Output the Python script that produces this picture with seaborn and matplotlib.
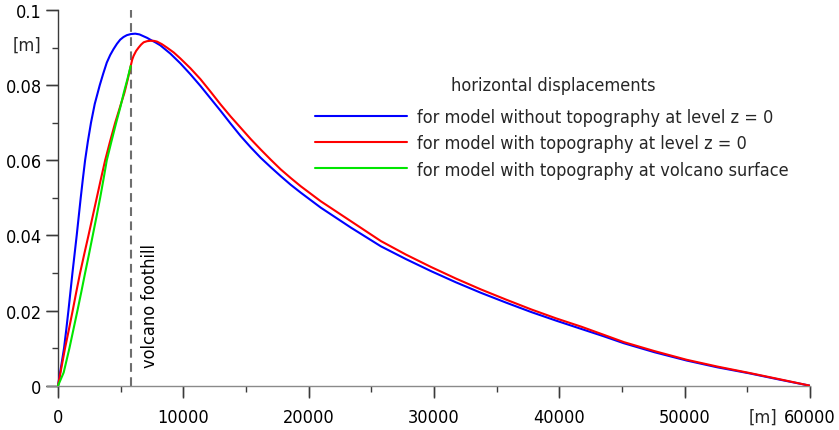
import matplotlib
matplotlib.use("Agg")
import matplotlib.pyplot as plt
from matplotlib import font_manager as fm
from matplotlib.lines import Line2D
import pandas as pd
import seaborn as sns

# distance from the volcano axis [m] and horizontal displacement [m]
x_blue = [0, 240, 480, 660, 830, 990, 1150, 1320, 1490, 1650, 1810, 1980, 2160, 2380,
          2630, 2930, 3330, 3600, 3890, 4160, 4430, 4700, 4960, 5220, 5490, 5820,
          6160, 6500, 6830, 7100, 7360, 7760, 8160, 8960, 9760, 10560, 11360, 12160,
          12960, 13760, 14560, 15360, 16160, 16960, 17760, 18560, 19360, 20160,
          20960, 23360, 25760, 27760, 29760, 31760, 33760, 35760, 37760, 39760,
          41760, 43500, 45150, 47600, 50160, 52600, 55150, 57600, 60000]
y_blue = [0, 0.0050, 0.0100, 0.0150, 0.0200, 0.0250, 0.0300, 0.0350, 0.0400, 0.0450,
          0.0500, 0.0550, 0.0600, 0.0650, 0.0700, 0.0750, 0.0800, 0.0830, 0.0860,
          0.0880, 0.0896, 0.0910, 0.0921, 0.0928, 0.0933, 0.0936, 0.0937, 0.0935,
          0.0930, 0.0926, 0.0921, 0.0914, 0.0906, 0.0884, 0.0858, 0.0829, 0.0798,
          0.0765, 0.0732, 0.0698, 0.0665, 0.0635, 0.0607, 0.0582, 0.0558, 0.0535,
          0.0514, 0.0494, 0.0474, 0.0421, 0.0371, 0.0337, 0.0305, 0.0275, 0.0247,
          0.0221, 0.0196, 0.0173, 0.0151, 0.0132, 0.0113, 0.0089, 0.0067, 0.0049,
          0.0033, 0.0016, 0]

x_red = [0, 280, 560, 870, 1170, 1460, 1760, 2090, 2430, 2760, 3090, 3420, 3760, 4150,
         4560, 4930, 5300, 5560, 5800, 5920, 6030, 6230, 6430, 6630, 6830, 7100, 7360,
         7630, 7890, 8290, 8690, 9230, 9760, 10560, 11360, 12160, 12960, 13760, 14560,
         15360, 16160, 16960, 17760, 18560, 19360, 20160, 20960, 23360, 25760, 27760,
         29760, 31760, 33760, 35760, 37760, 39760, 41760, 43500, 45150, 47600, 50160,
         52600, 55150, 57600, 60000]
y_red = [0, 0.0050, 0.0100, 0.0150, 0.0200, 0.0250, 0.0300, 0.0350, 0.0400, 0.0450,
         0.0500, 0.0550, 0.0600, 0.0650, 0.0700, 0.0740, 0.0780, 0.0815, 0.0851, 0.0868,
         0.0878, 0.0891, 0.0900, 0.0908, 0.0914, 0.0917, 0.0918, 0.0918, 0.0916, 0.0909,
         0.0900, 0.0887, 0.0871, 0.0845, 0.0816, 0.0783, 0.0749, 0.0717, 0.0687, 0.0657,
         0.0629, 0.0602, 0.0576, 0.0553, 0.0531, 0.0511, 0.0491, 0.0438, 0.0385, 0.0349,
         0.0316, 0.0285, 0.0256, 0.0229, 0.0203, 0.0179, 0.0157, 0.0136, 0.0116, 0.0092,
         0.0069, 0.0051, 0.0034, 0.0017, 0]

x_green = [0, 450, 910, 1230, 1550, 1860, 2160, 2470, 2770, 3070, 3360, 3630, 3890,
           4260, 4640, 4960, 5250, 5530, 5800]
y_green = [0, 0.0035, 0.0100, 0.0150, 0.0200, 0.0250, 0.0300, 0.0350, 0.0400, 0.0450,
           0.0500, 0.0550, 0.0600, 0.0650, 0.0700, 0.0740, 0.0780, 0.0815, 0.0851]

foothill_x = 5800

legend_title = "horizontal displacements"
labels = ["for model without topography at level z = 0",
          "for model with topography at level z = 0",
          "for model with topography at volcano surface"]
colors = ["#0000ff", "#ff0000", "#00e600"]

x_ticks = [0, 10000, 20000, 30000, 40000, 50000, 60000]
x_ticklabels = ["0", "10000", "20000", "30000", "40000", "50000", "60000"]
x_minor = [5000, 15000, 25000, 35000, 45000, 55000]
y_ticks = [0, 0.02, 0.04, 0.06, 0.08, 0.1]
y_ticklabels = ["0", "0.02", "0.04", "0.06", "0.08", "0.1"]
y_minor = [0.01, 0.03, 0.05, 0.07, 0.09]

sns.set_style("ticks")

# prefer a condensed humanist sans when one is installed
condensed = [f for f in fm.fontManager.ttflist
             if f.name.startswith("DejaVu Sans") and "Mono" not in f.name
             and ("Condensed" in f.name or f.stretch == "condensed")
             and f.style == "normal" and f.weight in (400, "normal")]
if condensed:
    plt.rcParams["font.family"] = [condensed[0].name]
    plt.rcParams["font.stretch"] = condensed[0].stretch
    FS = 13
else:
    plt.rcParams["font.family"] = ["DejaVu Sans"]
    FS = 12

tick_col = "#3a3a3a"
LONG, SHORT = 8.4, 4.0          # tick lengths in points

W, H = 839, 431
DPI = 100
fig = plt.figure(figsize=(W / DPI, H / DPI), dpi=DPI)
fig.patch.set_facecolor("white")

# the x range starts a little below zero so the baseline runs past the y axis
x_left = -880
px0, px1, py0, py1 = 47, 810, 386.7, 11
ax = fig.add_axes([px0 / W, 1 - py0 / H, (px1 - px0) / W, (py0 - py1) / H])
ax.set_facecolor("white")

frames = []
for xs, ys, lab in [(x_blue, y_blue, labels[0]), (x_red, y_red, labels[1]),
                    (x_green, y_green, labels[2])]:
    frames.append(pd.DataFrame({"x": xs, "y": ys, "series": lab}))
df = pd.concat(frames, ignore_index=True)

for lab, col in zip(labels, colors):
    sns.lineplot(data=df[df["series"] == lab], x="x", y="y", color=col,
                 linewidth=1.5, label=lab, ax=ax, sort=False, estimator=None,
                 zorder=3)

ax.axvline(foothill_x, color="#6e6e6e", linewidth=1.5,
           linestyle=(0, (4.2, 2.6)), zorder=2)
ax.text(foothill_x + 1500, 0.0051, "volcano foothill", rotation=90,
        ha="center", va="bottom", fontsize=FS, color="black")

ax.set_xlim(x_left, 60000)
ax.set_ylim(0, 0.1)
ax.set_xlabel("")
ax.set_ylabel("")
for s in ["top", "right"]:
    ax.spines[s].set_visible(False)
ax.spines["left"].set_position(("data", 0))
ax.spines["left"].set_color(tick_col)
ax.spines["bottom"].set_color("#8a8a8a")
ax.spines["left"].set_linewidth(1.0)
ax.spines["bottom"].set_linewidth(1.0)

ax.set_xticks(x_ticks, x_ticklabels)
ax.set_xticks(x_minor, minor=True)
ax.set_yticks(y_ticks, y_ticklabels)
ax.set_yticks(y_minor, minor=True)
ax.tick_params(axis="both", which="both", bottom=True, left=True, top=False,
               right=False, direction="out", labelcolor="black",
               color=tick_col, width=1.0)
ax.tick_params(axis="both", which="major", length=LONG, labelsize=FS)
ax.tick_params(axis="both", which="minor", length=SHORT)
ax.tick_params(axis="x", which="major", pad=8)
ax.tick_params(axis="y", which="major", pad=3.5)

# long tick strokes at the labelled positions, drawn as plain line segments
long_px = LONG * DPI / 72
ax_h_px = py0 - py1
x_per_px = (60000 - x_left) / (px1 - px0)
for xv in x_ticks:
    ax.add_line(Line2D([xv, xv], [0, -long_px / ax_h_px],
                       transform=ax.get_xaxis_transform(), color=tick_col,
                       linewidth=1.0, clip_on=False, solid_capstyle="butt"))
for yv in y_ticks:
    ax.add_line(Line2D([-long_px * x_per_px, 0], [yv, yv], color=tick_col,
                       linewidth=1.0, clip_on=False, solid_capstyle="butt"))

fig.text(26.5 / W, 1 - 45.5 / H, "[m]", ha="center", va="center", fontsize=FS)
fig.text(777 / W, 1 - 418 / H, "[m]", ha="right", va="center", fontsize=FS)
fig.text(553 / W, 1 - 86 / H, legend_title, ha="center", va="center", fontsize=FS)

fs_px = FS * DPI / 72
handles = [Line2D([], [], color=c, linewidth=1.5) for c in colors]
leg = ax.legend(handles, labels, loc="upper left",
                bbox_to_anchor=(315 / W, 1 - 109 / H),
                bbox_transform=fig.transFigure, frameon=False, fontsize=FS,
                handlelength=92 / fs_px, handletextpad=10 / fs_px,
                labelspacing=0.46 if FS == 13 else 0.57,
                borderpad=0, borderaxespad=0)

fig.savefig("out.png", dpi=DPI, facecolor="white")
